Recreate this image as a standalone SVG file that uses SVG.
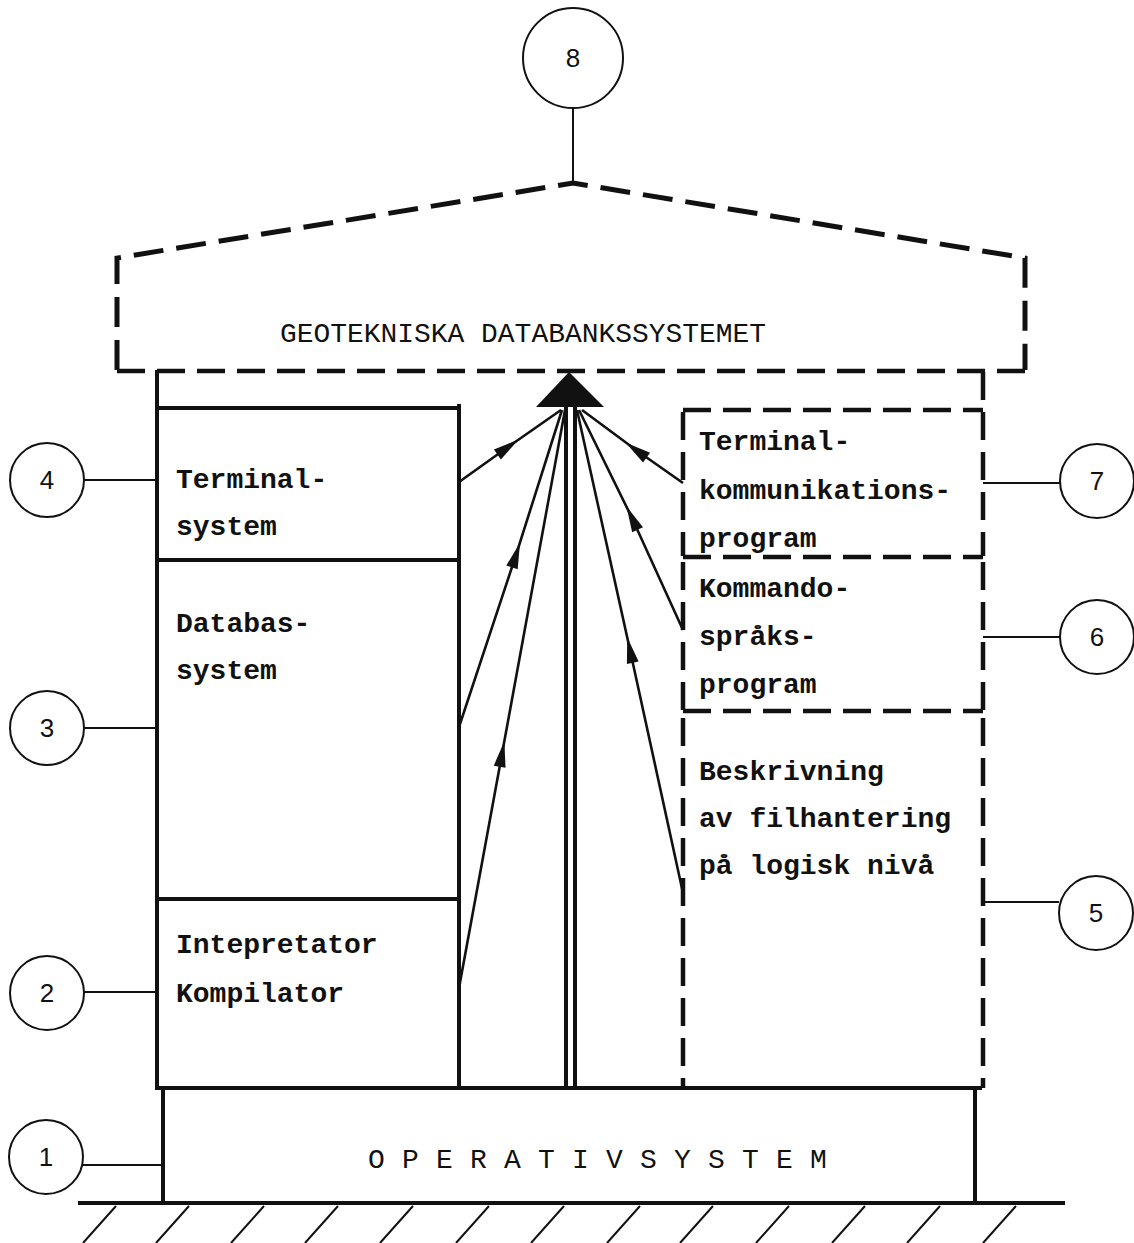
<svg xmlns="http://www.w3.org/2000/svg" width="1134" height="1243" viewBox="0 0 1134 1243">
  <style>
    .bg { fill: #ffffff; }
    .solid { fill: none; stroke: #111; stroke-width: 4; stroke-linecap: square; }
    .thin { fill: none; stroke: #111; stroke-width: 2; }
    .fan { fill: none; stroke: #111; stroke-width: 2.6; }
    .dash { fill: none; stroke: #111; stroke-width: 4.5; stroke-dasharray: 28 12; }
    .roof { fill: none; stroke: #111; stroke-width: 5; stroke-dasharray: 30 13; }
    .ring { fill: #fff; stroke: #111; stroke-width: 2; }
    .num { font-family: "Liberation Sans", Arial, sans-serif; font-size: 26px; fill: #111; text-anchor: middle; }
    .lbl { font-family: "Liberation Mono", "Courier New", monospace; font-size: 28px; font-weight: bold; fill: #111; }
    .cap { font-family: "Liberation Mono", "Courier New", monospace; font-size: 28px; fill: #111; }
  </style>
  <defs>
    <marker id="head" markerUnits="userSpaceOnUse" markerWidth="30" markerHeight="16" viewBox="-15 -8 30 16" refX="0" refY="0" orient="auto">
      <path d="M-13,-6 L13,0 L-13,6 Z" fill="#111"/>
    </marker>
  </defs>

  <rect class="bg" x="0" y="0" width="1134" height="1243"/>

  <!-- roof: the overall system frame -->
  <g id="node-8-frame">
    <path class="roof" d="M117,370 L117,258 L573,183 L1025,258 L1025,370"/>
    <path class="dash" d="M117,371 L1025,371" stroke-dasharray="26 10"/>
    <text class="cap" x="523" y="342" text-anchor="middle" textLength="486" lengthAdjust="spacingAndGlyphs">GEOTEKNISKA DATABANKSSYSTEMET</text>
  </g>

  <!-- left stack of solid boxes -->
  <g id="node-4-terminalsystem">
    <path class="solid" d="M157,372 L157,560 M157,408 L459,408 M459,406 L459,560"/>
    <text class="lbl" x="176" y="488">Terminal-</text>
    <text class="lbl" x="176" y="535">system</text>
  </g>
  <g id="node-3-databassystem">
    <path class="solid" d="M157,560 L459,560 M157,560 L157,899 M459,560 L459,899"/>
    <text class="lbl" x="176" y="632">Databas-</text>
    <text class="lbl" x="176" y="679">system</text>
  </g>
  <g id="node-2-interpretator">
    <path class="solid" d="M157,899 L459,899 M157,899 L157,1088 M459,899 L459,1088"/>
    <text class="lbl" x="176" y="953">Intepretator</text>
    <text class="lbl" x="176" y="1002">Kompilator</text>
  </g>

  <!-- right stack of dashed boxes -->
  <g id="node-7-terminalkommunikation">
    <path class="dash" d="M683,410 L983,410"/>
    <path class="dash" d="M683,412 L683,556"/>
    <path class="dash" d="M983,372 L983,556"/>
    <text class="lbl" x="699" y="450">Terminal-</text>
    <text class="lbl" x="699" y="499">kommunikations-</text>
    <text class="lbl" x="699" y="547">program</text>
  </g>
  <g id="node-6-kommandosprak">
    <path class="dash" d="M683,557 L983,557"/>
    <path class="dash" d="M683,562 L683,710"/>
    <path class="dash" d="M983,562 L983,710"/>
    <text class="lbl" x="699" y="597">Kommando-</text>
    <text class="lbl" x="699" y="645">språks-</text>
    <text class="lbl" x="699" y="693">program</text>
  </g>
  <g id="node-5-filhantering">
    <path class="dash" d="M683,711 L983,711"/>
    <path class="dash" d="M683,718 L683,1088"/>
    <path class="dash" d="M983,718 L983,1088"/>
    <text class="lbl" x="699" y="780">Beskrivning</text>
    <text class="lbl" x="699" y="827">av filhantering</text>
    <text class="lbl" x="699" y="874">på logisk nivå</text>
  </g>

  <!-- operating system base on the ground -->
  <g id="node-1-operativsystem">
    <path class="solid" d="M157,1088 L980,1088"/>
    <path class="solid" stroke-width="3" d="M163,1089 L163,1202 M975,1089 L975,1202"/>
    <text class="cap" x="368" y="1168" letter-spacing="17.2">OPERATIVSYSTEM</text>
    <path class="solid" d="M80,1203 L1063,1203"/>
    <path class="thin" stroke-width="2.4" d="M116,1206 L83,1243 M189,1206 L156,1243 M264,1206 L231,1243 M338,1206 L305,1243 M413,1206 L380,1243 M489,1206 L456,1243 M564,1206 L531,1243 M640,1206 L607,1243 M713,1206 L680,1243 M789,1206 L756,1243 M865,1206 L832,1243 M940,1206 L907,1243 M1016,1206 L983,1243"/>
  </g>

  <!-- numbered reference circles -->
  <g id="node-circle-8"><circle class="ring" cx="573" cy="58" r="50"/><text class="num" x="573" y="67">8</text></g>
  <g id="node-circle-4"><circle class="ring" cx="47" cy="480" r="37"/><text class="num" x="47" y="489">4</text></g>
  <g id="node-circle-3"><circle class="ring" cx="47" cy="728" r="37"/><text class="num" x="47" y="737">3</text></g>
  <g id="node-circle-2"><circle class="ring" cx="47" cy="993" r="37"/><text class="num" x="47" y="1002">2</text></g>
  <g id="node-circle-1"><circle class="ring" cx="46" cy="1157" r="37"/><text class="num" x="46" y="1166">1</text></g>
  <g id="node-circle-7"><circle class="ring" cx="1097" cy="481" r="37"/><text class="num" x="1097" y="490">7</text></g>
  <g id="node-circle-6"><circle class="ring" cx="1097" cy="637" r="37"/><text class="num" x="1097" y="646">6</text></g>
  <g id="node-circle-5"><circle class="ring" cx="1096" cy="913" r="37"/><text class="num" x="1096" y="922">5</text></g>

  <g id="connectors">
    <!-- leader lines from the numbered circles -->
    <path class="thin" d="M573,108 L573,183"/>
    <path class="thin" d="M84,480 L157,480"/>
    <path class="thin" d="M84,728 L157,728"/>
    <path class="thin" d="M84,992 L157,992"/>
    <path class="thin" stroke-width="3" d="M83,1165 L163,1165"/>
    <path class="thin" d="M983,483 L1060,483"/>
    <path class="thin" d="M983,637 L1060,637"/>
    <path class="thin" d="M983,902 L1059,902"/>

    <!-- central shaft and its arrowhead -->
    <path class="solid" stroke-width="3" d="M566,407 L566,1088 M575,407 L575,1088"/>
    <path d="M569,372 L604,407 L536,407 Z" fill="#111"/>

    <!-- fan of flows into the system -->
    <path class="fan" marker-mid="url(#head)" d="M459,482 L508,447 L561,410"/>
    <path class="fan" marker-mid="url(#head)" d="M459,727 L516,555 L562,410"/>
    <path class="fan" marker-mid="url(#head)" d="M459,988 L502,754 L565,410"/>
    <path class="fan" marker-mid="url(#head)" d="M683,893 L630,650 L577,410"/>
    <path class="fan" marker-mid="url(#head)" d="M683,630 L632,518 L579,410"/>
    <path class="fan" marker-mid="url(#head)" d="M683,483 L636,450 L582,410"/>
  </g>
</svg>
